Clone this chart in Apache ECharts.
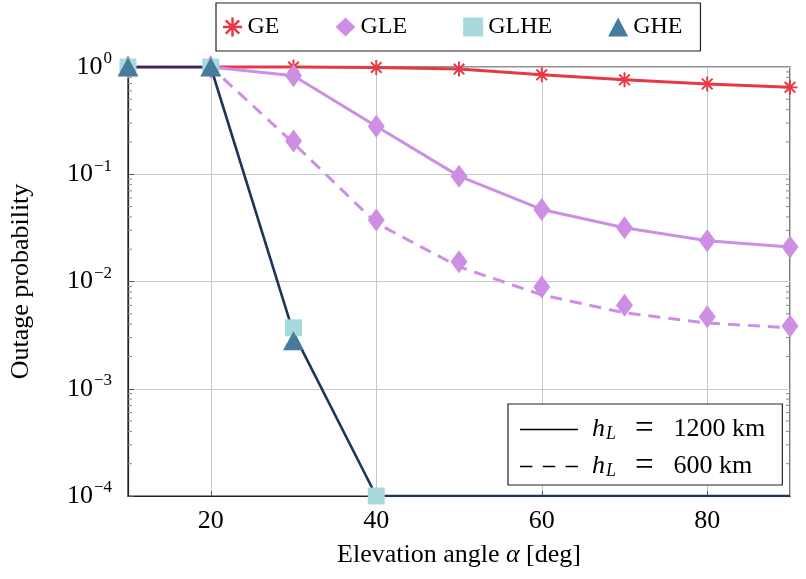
<!DOCTYPE html>
<html>
<head>
<meta charset="utf-8">
<script src="https://cdn.jsdelivr.net/npm/echarts@6/dist/echarts.min.js"></script>
<style>
html, body { margin: 0; padding: 0; background: #fff; }
#chart { width: 806px; height: 579px; }
</style>
</head>
<body>
<div id="chart"></div>
<script>
// elevation angles (deg)
const angles = [10, 20, 30, 40, 50, 60, 70, 80, 90];
// outage probability
const geSolid = [1, 1, 1, 0.99, 0.957, 0.845, 0.76, 0.695, 0.646];
const gleSolid = [1, 1, 0.83, 0.28, 0.096, 0.047, 0.0317, 0.024, 0.021];
const gleDashLine = [1, 1, 0.195, 0.035, 0.0137, 0.0075, 0.0051, 0.0041, 0.0037];
const gleDashMarks = [1, 1, 0.204, 0.0374, 0.0153, 0.0089, 0.006, 0.0047, 0.00385];
const ghLine = [1, 1, 0.0033, 0.0001, 0.0001, 0.0001, 0.0001, 0.0001, 0.0001];
const glheAngles = [10, 20, 30, 40];
const glheMarks = [1, 1, 0.0037, 0.0001];
const gheAngles = [10, 20, 30];
const gheMarks = [1, 1, 0.0028];
// log minor ticks
const decades = [1e-4, 1e-3, 1e-2, 1e-1];
const minorMult = [2, 3, 4, 5, 6, 7, 8, 9];
const altitudes = ['1200 km', '600 km'];

const FONT = '"Liberation Serif", "DejaVu Serif", serif';
const RED = '#e63946', PURPLE = '#ce8ee3', TEAL = '#a8dadc', BLUE = '#457b9d', NAVY = '#1d3557';

function zip(xs, ys) { return xs.map((x, i) => [x, ys[i]]); }

// asterisk mark built from thin bars
function asteriskPath(n, r, w) {
    let d = '';
    for (let k = 0; k < n; k++) {
        const a = Math.PI * k / n, c = Math.cos(a), s = Math.sin(a);
        const pts = [
            [r * c - w * s, r * s + w * c],
            [r * c + w * s, r * s - w * c],
            [-r * c + w * s, -r * s - w * c],
            [-r * c - w * s, -r * s + w * c]
        ];
        d += 'M' + pts.map(p => p[0].toFixed(2) + ' ' + p[1].toFixed(2)).join('L') + 'Z';
    }
    return 'path://' + d;
}
const ASTER = asteriskPath(4, 10, 1.3);
// legend samples for the altitude legend
const SOLID_ICON = 'path://M0 0H56V1.5H0Z';
const DASH_ICON = 'path://M0 0H12V1.5H0Z M22 0H34V1.5H22Z M44 0H56V1.5H44Z';

let minorData = [];
decades.forEach(d => minorMult.forEach(m => minorData.push([10, d * m])));

const supLabel = function (v) {
    const e = Math.round(Math.log10(v));
    return '{b|10}{e|' + (e < 0 ? '\u2212' + (-e) : e) + '}';
};

let myChart = echarts.init(document.getElementById('chart'));
let option = {
    animation: false,
    backgroundColor: '#fff',
    textStyle: { fontFamily: FONT },
    grid: {
        left: 124, top: 67, right: 16, bottom: 83,
        show: true, borderColor: '#222', borderWidth: 1.2
    },
    legend: [
        {
            left: 216, top: 3,
            padding: [12, 18, 12, 7],
            borderColor: '#222', borderWidth: 1.2,
            itemWidth: 20, itemHeight: 19, itemGap: 56,
            textStyle: { fontFamily: FONT, fontSize: 24, color: '#000' },
            selectedMode: false,
            data: [
                { name: 'GE', icon: ASTER },
                { name: 'GLE', icon: 'diamond' },
                { name: 'GLHE', icon: 'rect' },
                { name: 'GHE', icon: 'triangle' }
            ]
        },
        {
            left: 508, top: 404, orient: 'vertical',
            padding: [9, 17, 2, 12],
            borderColor: '#222', borderWidth: 1.2,
            backgroundColor: '#fff',
            itemWidth: 58, itemHeight: 2, itemGap: 4,
            selectedMode: false,
            formatter: function (name) {
                return '{i|h}{s|L}{q|=}{n|' + name + '}';
            },
            textStyle: {
                fontFamily: FONT, fontSize: 26, color: '#000',
                rich: {
                    i: { fontFamily: FONT, fontStyle: 'italic', fontSize: 26, lineHeight: 30, padding: [0, 0, 0, 9] },
                    s: { fontFamily: FONT, fontStyle: 'italic', fontSize: 18, lineHeight: 30, padding: [10, 3, 0, 1] },
                    q: { fontFamily: FONT, fontSize: 33, lineHeight: 30, padding: [0, 20, 0, 16] },
                    n: { fontFamily: FONT, fontSize: 26, lineHeight: 30 }
                }
            },
            data: [
                { name: altitudes[0], icon: SOLID_ICON },
                { name: altitudes[1], icon: DASH_ICON }
            ]
        }
    ],
    xAxis: {
        type: 'value',
        min: 10, max: 90, splitNumber: 4,
        name: 'Elevation angle {i|\u03b1} [deg]',
        nameLocation: 'middle', nameGap: 46,
        nameTextStyle: {
            fontFamily: FONT, fontSize: 26, color: '#000',
            rich: { i: { fontFamily: FONT, fontStyle: 'italic', fontSize: 26 } }
        },
        axisLine: { lineStyle: { color: '#222', width: 1.2 } },
        axisTick: { inside: true, length: 5, lineStyle: { color: '#555' } },
        axisLabel: {
            fontFamily: FONT, fontSize: 26, color: '#000', margin: 12,
            showMinLabel: false, showMaxLabel: false
        },
        splitLine: { show: true, lineStyle: { color: '#c8c8c8', width: 1 } }
    },
    yAxis: {
        type: 'log', logBase: 10,
        min: 1e-4, max: 1,
        name: 'Outage probability',
        nameLocation: 'middle', nameGap: 94,
        nameTextStyle: { fontFamily: FONT, fontSize: 26, color: '#000' },
        axisLine: { lineStyle: { color: '#222', width: 1.2 } },
        axisTick: { inside: true, length: 6, lineStyle: { color: '#555' } },
        axisLabel: {
            margin: 16, color: '#000',
            formatter: supLabel,
            rich: {
                b: { fontFamily: FONT, fontSize: 26, color: '#000' },
                e: { fontFamily: FONT, fontSize: 17, color: '#000', padding: [0, 0, 16, 1] }
            }
        },
        splitLine: { show: true, lineStyle: { color: '#c8c8c8', width: 1 } }
    },
    series: [
        {
            type: 'custom',
            name: 'minor',
            silent: true,
            clip: false,
            z: 1,
            data: minorData,
            renderItem: function (params, api) {
                const p = api.coord([api.value(0), api.value(1)]);
                const cs = params.coordSys;
                const st = { stroke: '#888', lineWidth: 1 };
                return {
                    type: 'group',
                    children: [
                        { type: 'line', shape: { x1: cs.x, y1: p[1], x2: cs.x + 4, y2: p[1] }, style: st },
                        { type: 'line', shape: { x1: cs.x + cs.width - 4, y1: p[1], x2: cs.x + cs.width, y2: p[1] }, style: st }
                    ]
                };
            }
        },
        {
            name: 'GE', type: 'line',
            data: zip(angles, geSolid),
            color: RED,
            lineStyle: { width: 3, color: RED },
            symbol: ASTER, symbolSize: 15,
            itemStyle: { color: RED },
            clip: false, z: 3
        },
        {
            name: 'GLE', type: 'line',
            data: zip(angles, gleSolid),
            color: PURPLE,
            lineStyle: { width: 3, color: PURPLE },
            symbol: 'diamond', symbolSize: [17, 23],
            itemStyle: { color: PURPLE },
            clip: false, z: 4
        },
        {
            name: 'GLE 600', type: 'line',
            data: zip(angles, gleDashLine),
            lineStyle: { width: 3, color: PURPLE, type: [12, 8] },
            symbol: 'none', z: 4
        },
        {
            name: 'GLE 600 marks', type: 'scatter',
            data: zip(angles, gleDashMarks),
            symbol: 'diamond', symbolSize: [17, 23],
            itemStyle: { color: PURPLE, opacity: 1 },
            clip: false, z: 4
        },
        {
            name: 'GH line', type: 'line',
            data: zip(angles, ghLine),
            lineStyle: { width: 2.6, color: NAVY },
            symbol: 'none', z: 5
        },
        {
            name: 'GLHE', type: 'scatter',
            data: zip(glheAngles, glheMarks),
            color: TEAL,
            symbol: 'rect', symbolSize: 17,
            itemStyle: { color: TEAL, opacity: 1 },
            clip: false, z: 6
        },
        {
            name: 'GHE', type: 'scatter',
            data: zip(gheAngles, gheMarks),
            color: BLUE,
            symbol: 'triangle', symbolSize: [21, 19],
            itemStyle: { color: BLUE, opacity: 1 },
            clip: false, z: 7
        },
        {
            name: altitudes[0], type: 'line', data: [],
            color: '#000', symbol: 'none',
            itemStyle: { color: '#000' },
            lineStyle: { width: 0, color: '#000' }
        },
        {
            name: altitudes[1], type: 'line', data: [],
            color: '#000', symbol: 'none',
            itemStyle: { color: '#000' },
            lineStyle: { width: 0, color: '#000' }
        }
    ]
};
myChart.setOption(option);
window.addEventListener('resize', function () {
    myChart.resize();
});
</script>
</body>
</html>
